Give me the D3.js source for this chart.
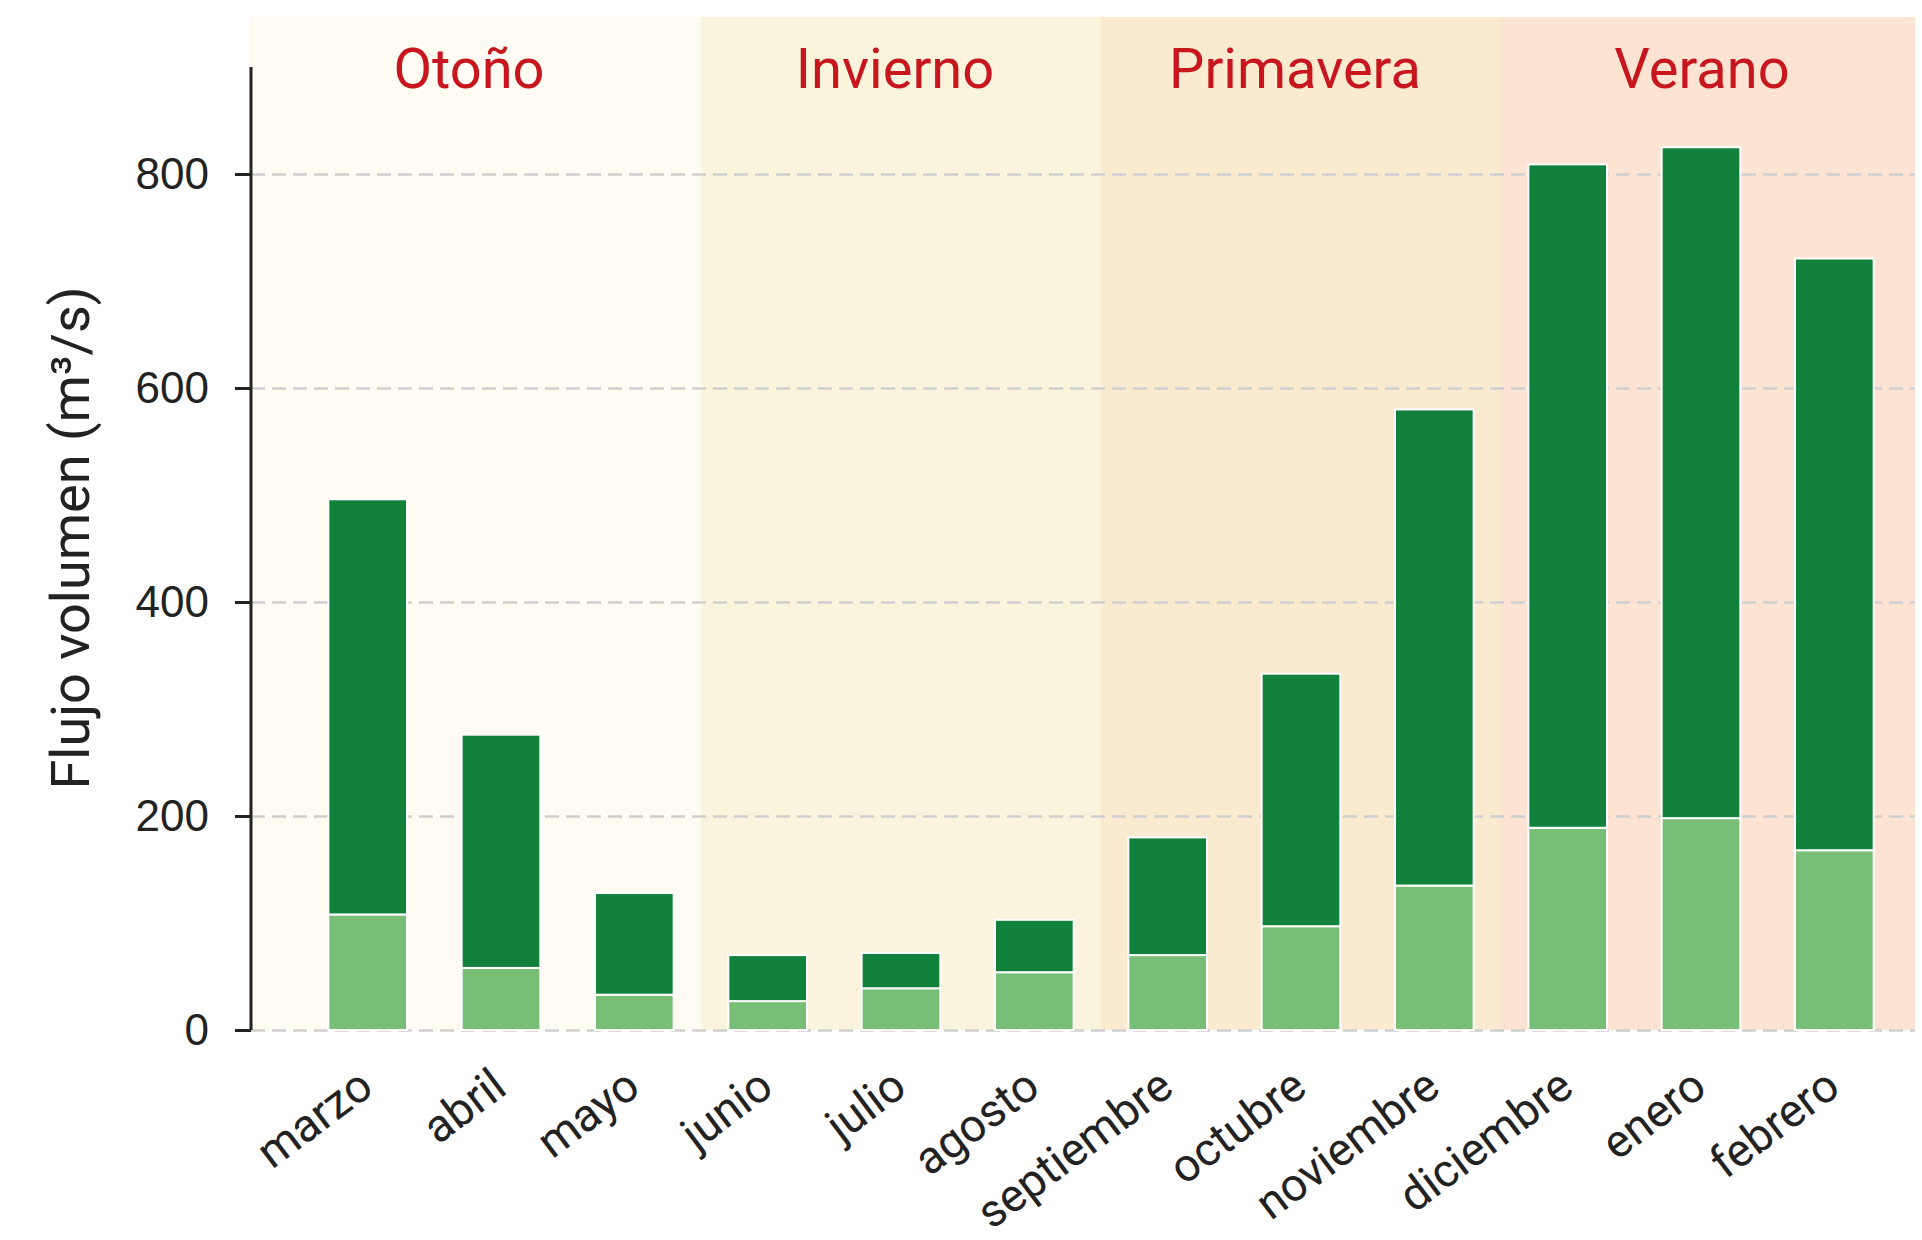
<!DOCTYPE html>
<meta charset="utf-8">
<head>
    <script src="https://d3js.org/d3.v7.min.js"></script>
    <style>
    body { margin: 0; background: #fff; }
    svg { font-family: Roboto, sans-serif; }
    .axis text { font-size: 44px; fill: #222; }
    .axis path, .axis line { stroke: #222; stroke-width: 3px; }
    .grid line { stroke: #cfcfcf; stroke-width: 2.5px; stroke-dasharray: 14,7; }
    .grid path { stroke-width: 0; }
    .season { font-size: 56px; fill: #c8161e; text-anchor: middle; }
    .xlabel { font-size: 46px; fill: #222; }
    </style>
</head>
<body>
<script>

// months, in the order of the southern hemisphere seasons
var months = ["marzo", "abril", "mayo", "junio", "julio", "agosto",
              "septiembre", "octubre", "noviembre", "diciembre", "enero", "febrero"];

// lower (light) part of each bar
var baseFlow = [108, 58, 33, 27, 39, 54, 70, 97, 135, 189, 198, 168];
// upper (dark) part of each bar
var extraFlow = [388, 218, 95, 43, 33, 49, 110, 236, 445, 620, 627, 553];

var seasons = ["Otoño", "Invierno", "Primavera", "Verano"];
var seasonStart = ["marzo", "junio", "septiembre", "diciembre"];
var seasonColors = ["#fefbf2", "#fbf4dd", "#f9ead0", "#fce3d2"];

var yTicks = [0, 200, 400, 600, 800];

// set the dimensions and margins of the graph
var margin = {top: 67, right: 7, bottom: 210, left: 251},
    width = 1922 - margin.left - margin.right,
    height = 1240 - margin.top - margin.bottom;

var svg = d3.select("body").append("svg")
    .attr("width", 1922)
    .attr("height", 1240)
  .append("g")
    .attr("transform", "translate(" + margin.left + "," + margin.top + ")");

var x = d3.scaleBand()
    .domain(months)
    .range([50, 1650])
    .paddingInner(0.41)
    .paddingOuter(0.205);

var y = d3.scaleLinear()
    .domain([0, 900])
    .range([height, 0]);

var gap = (x.step() - x.bandwidth()) / 2;

// season backgrounds
var seasonData = seasons.map(function(s, i) {
  var x0 = i == 0 ? -2 : x(seasonStart[i]) - gap;
  var x1 = i == seasons.length - 1 ? width : x(seasonStart[i + 1]) - gap;
  return {name: s, x0: x0, x1: x1, color: seasonColors[i]};
});

svg.selectAll(".bg")
    .data(seasonData)
  .enter().append("rect")
    .attr("class", "bg")
    .attr("x", function(d) { return d.x0; })
    .attr("y", -50)
    .attr("width", function(d) { return d.x1 - d.x0; })
    .attr("height", height + 50)
    .style("fill", function(d) { return d.color; });

svg.selectAll(".season")
    .data(seasonData)
  .enter().append("text")
    .attr("class", "season")
    .attr("x", function(d) { return (d.x0 + d.x1) / 2 - 6; })
    .attr("y", 21)
    .text(function(d) { return d.name; });

// gridlines
svg.append("g")
    .attr("class", "grid")
    .call(d3.axisLeft(y).tickValues(yTicks).tickSize(-width).tickFormat(""));

// stacked bars
var stacked = d3.stack().keys(["base", "extra"])(months.map(function(m, i) {
  return {month: m, base: baseFlow[i], extra: extraFlow[i]};
}));
var barColors = ["#78be76", "#11813b"];

svg.selectAll(".layer")
    .data(stacked)
  .enter().append("g")
    .attr("class", "layer")
    .style("fill", function(d, i) { return barColors[i]; })
  .selectAll("rect")
    .data(function(d) { return d; })
  .enter().append("rect")
    .attr("x", function(d) { return x(d.data.month); })
    .attr("y", function(d) { return y(d[1]); })
    .attr("width", x.bandwidth())
    .attr("height", function(d) { return y(d[0]) - y(d[1]); })
    .style("stroke", "#fff")
    .style("stroke-width", 2);

// y axis
var yAxis = svg.append("g")
    .attr("class", "axis")
    .call(d3.axisLeft(y).tickValues(yTicks).tickSize(16).tickPadding(26));
yAxis.select(".domain").attr("d", "M0," + y(900) + "V" + y(0));

// x labels
svg.selectAll(".xlabel")
    .data(months)
  .enter().append("text")
    .attr("class", "xlabel")
    .attr("text-anchor", "end")
    .attr("transform", function(d) {
      return "translate(" + (x(d) + x.bandwidth() / 2 + 8) + "," + (height + 62) + ") rotate(-37)";
    })
    .text(function(d) { return d; });

// y axis title
svg.append("text")
    .attr("transform", "rotate(-90)")
    .attr("x", -471)
    .attr("y", -162)
    .style("text-anchor", "middle")
    .style("font-size", "54px")
    .style("fill", "#222")
    .text("Flujo volumen (m³/s)");

</script>
</body>
